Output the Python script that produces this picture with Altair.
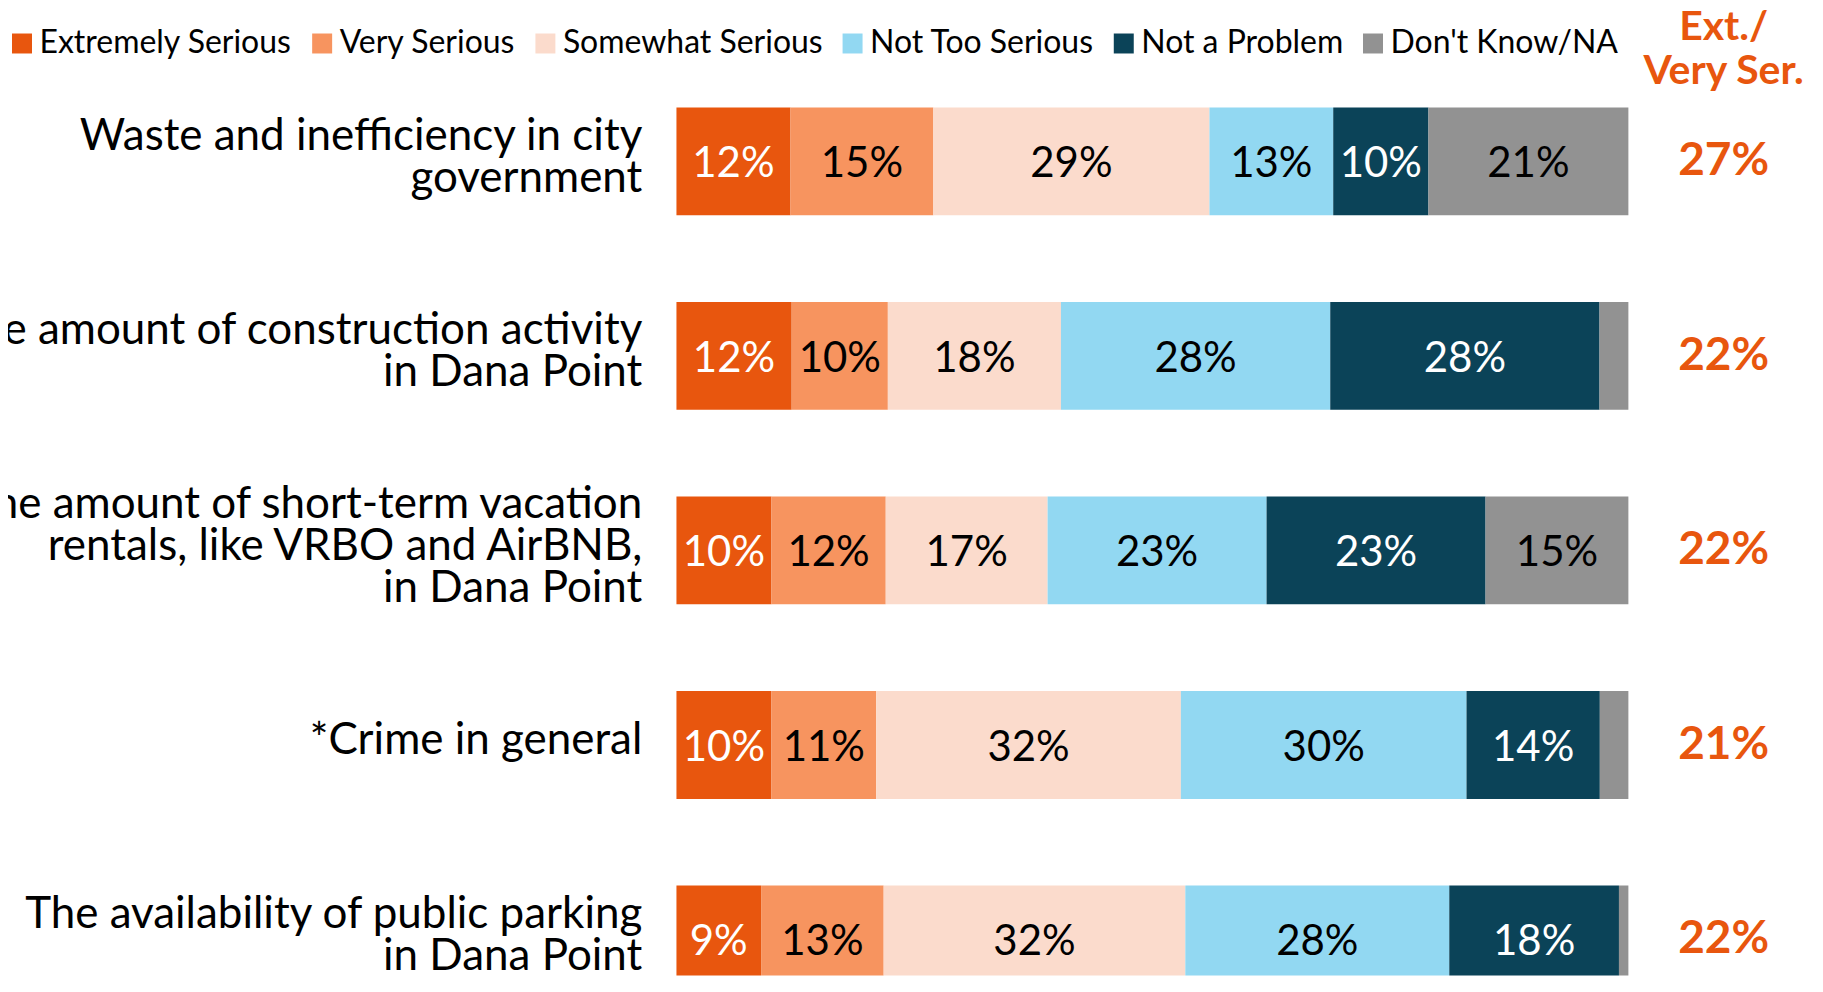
import altair as alt
import pandas as pd

categories = ["Extremely Serious", "Very Serious", "Somewhat Serious",
              "Not Too Serious", "Not a Problem", "Don't Know/NA"]
colors = ["#E8560E", "#F7945F", "#FBDBCC", "#92D8F2", "#0B4358", "#929292"]

items = [
    "Waste and inefficiency in city\ngovernment",
    "The amount of construction activity\nin Dana Point",
    "The amount of short-term vacation\nrentals, like VRBO and AirBNB,\nin Dana Point",
    "*Crime in general",
    "The availability of public parking\nin Dana Point",
]

extremely = [12, 12, 10, 10, 9]
very = [15, 10, 12, 11, 13]
somewhat = [29, 18, 17, 32, 32]
not_too = [13, 28, 23, 30, 28]
not_problem = [10, 28, 23, 14, 18]
dont_know = [21, 3, 15, 3, 1]
ext_very = [27, 22, 22, 21, 22]

header = "Ext./\nVery Ser."

series = [extremely, very, somewhat, not_too, not_problem, dont_know]
recs = []
for i, item in enumerate(items):
    for j, cat in enumerate(categories):
        recs.append({"row": i, "item": item, "cat": cat, "order": j, "value": series[j][i]})
df = pd.DataFrame(recs)
summary = pd.DataFrame({"row": list(range(len(items))), "item": items, "ext": ext_very})
hdr = pd.DataFrame({"h": [header]})

ORANGE = "#E8560E"
FONT = "Lato"
STEP = 194.75          # px per row unit
HALF = 54 / STEP       # half bar thickness in row units
LINE_H = 42            # label line height px
LABEL_SHIFT = 3.5 / STEP

xscale = alt.Scale(domain=[0, 1.196], nice=False, zero=False)
yscale = alt.Scale(domain=[-0.3131, 4.185], reverse=True, nice=False, zero=False)

stacked = (
    alt.Chart(df)
    .transform_stack(stack="value", groupby=["row"], as_=["x0", "x1"],
                     offset="normalize", sort=[alt.SortField("order")])
    .transform_calculate(mid="(datum.x0 + datum.x1) / 2",
                         y0=f"datum.row - {HALF}", y1=f"datum.row + {HALF}",
                         label="datum.value + '%'")
)

bars = stacked.mark_rect(clip=True).encode(
    x=alt.X("x0:Q", scale=xscale, axis=None),
    x2="x1:Q",
    y=alt.Y("y0:Q", scale=yscale, axis=None),
    y2="y1:Q",
    color=alt.Color(
        "cat:N",
        scale=alt.Scale(domain=categories, range=colors),
        legend=alt.Legend(
            title=None, orient="none", legendX=-671, legendY=-73,
            direction="horizontal", columns=6, symbolType="square",
            symbolSize=400, symbolStrokeWidth=0, labelFont=FONT,
            labelFontSize=32, labelColor="black", labelOffset=1.5,
            columnPadding=13.5, padding=0, labelLimit=500,
        ),
    ),
)

seg_labels = stacked.transform_filter("datum.value >= 5").mark_text(
    font=FONT, fontSize=42, baseline="middle", dy=3, clip=True
).encode(
    x=alt.X("mid:Q", scale=xscale),
    y=alt.Y("row:Q", scale=yscale),
    text="label:N",
    color=alt.condition(
        "datum.cat == 'Extremely Serious' || datum.cat == 'Not a Problem'",
        alt.value("white"), alt.value("black"),
    ),
)

item_labels = alt.Chart(summary).transform_calculate(
    nlines="split(datum.item, '\\n').length",
    ly=f"datum.row - {LABEL_SHIFT} - (datum.nlines - 1) / 2 * {LINE_H / STEP}",
).mark_text(
    font=FONT, fontSize=44, align="right", baseline="middle",
    lineBreak="\n", lineHeight=LINE_H, color="black"
).encode(
    x=alt.value(-34),
    y=alt.Y("ly:Q", scale=yscale),
    text="item:N",
)

ext_labels = alt.Chart(summary).transform_calculate(
    t="datum.ext + '%'"
).mark_text(
    font=FONT, fontSize=46, fontWeight="bold", color=ORANGE,
    align="center", baseline="middle"
).encode(
    x=alt.datum(1.100, scale=xscale),
    y=alt.Y("row:Q", scale=yscale),
    text="t:N",
)

header_text = alt.Chart(hdr).mark_text(
    font=FONT, fontSize=41, fontWeight="bold", color=ORANGE,
    align="center", baseline="middle", lineBreak="\n", lineHeight=44
).encode(
    x=alt.datum(1.100, scale=xscale),
    y=alt.value(-72),
    text="h:N",
)

chart = alt.layer(bars, seg_labels, item_labels, ext_labels, header_text).properties(
    width=1140, height=876,
    autosize=alt.AutoSizeParams(type="none"),
    padding={"left": 669, "top": 92, "right": 0, "bottom": 0},
    background="white",
).configure_view(stroke=None)

chart.save("out.html", embed_options={"renderer": "svg", "actions": False})
